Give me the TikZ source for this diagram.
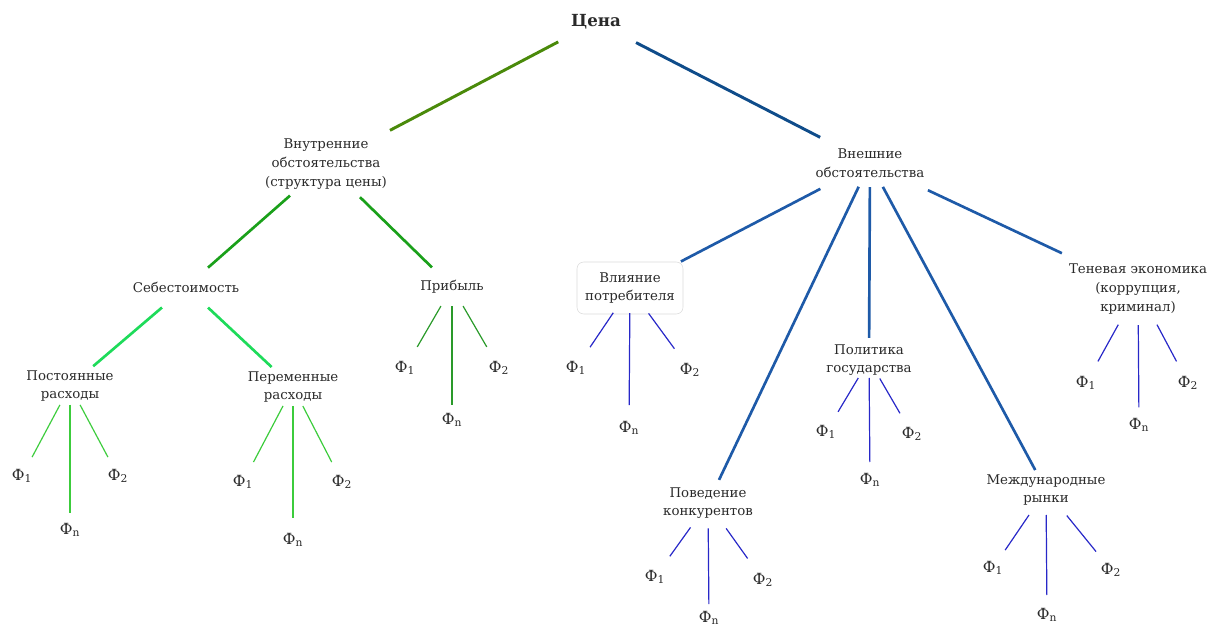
\documentclass[tikz,border=0pt]{standalone}
\usepackage{fontspec}
\setmainfont{DejaVu Serif}
\usetikzlibrary{calc}
\definecolor{txtgray}{HTML}{2A2A2A}
\definecolor{olivegr}{HTML}{4A8A0A}
\definecolor{navybl}{HTML}{0F4C8A}
\definecolor{midgr}{HTML}{1AA01A}
\definecolor{brightgr}{HTML}{1EDB5A}
\definecolor{leafgr}{HTML}{3CCC3C}
\definecolor{darkleafgr}{HTML}{2A9A2A}
\definecolor{midbl}{HTML}{1E5AA8}
\definecolor{leafbl}{HTML}{2828C8}

\tikzset{
	lvlone/.style = {line width=2.2pt},
	lvltwo/.style = {line width=2pt},
	leaf/.style = {line width=0.9pt},
	fnode/.style = {font=\fontsize{11.5}{13}\selectfont}
}

\begin{document}
\begin{tikzpicture}[x=0.75pt, y=-0.75pt,
	every node/.style={font=\fontsize{10}{14}\selectfont, text=txtgray, align=center, inner sep=1pt}]
	\useasboundingbox (0,0) rectangle (1213,630);

	% top
	\node[font=\fontsize{12.5}{14}\bfseries] (cena) at (596,22) {Цена};
	\node (vnut) at (326,164) {Внутренние\\обстоятельства\\(структура цены)};
	\node (vnesh) at (870,163) {Внешние\\обстоятельства};

	% inner side
	\node (seb) at (186,287) {Себестоимость};
	\node (prib) at (452,287) {Прибыль};
	\node (post) at (70,386) {Постоянные\\расходы};
	\node (per) at (293,387) {Переменные\\расходы};

	% outer side
	\node[draw=black!15, rounded corners=5pt, minimum width=106*0.75pt, minimum height=52*0.75pt] (vliy) at (630,288) {Влияние\\потребителя};
	\node (ten) at (1138,289) {Теневая экономика\\(коррупция,\\криминал)};
	\node (pol) at (869,360) {Политика\\государства};
	\node (pov) at (708,503) {Поведение\\конкурентов};
	\node (mezh) at (1046,490) {Международные\\рынки};

	% factors
	\foreach \p/\xa/\ya/\xn/\yn/\xb/\yb in {
		post/22/476/70/530/118/476,
		per/243/482/293/540/342/482,
		prib/405/368/452/420/499/368,
		vliy/576/368/629/428/690/370,
		pol/826/432/870/480/912/434,
		pov/655/577/709/618/763/580,
		mezh/993/568/1047/615/1111/570,
		ten/1086/383/1139/425/1188/383}{
		\node[fnode] (\p F1) at (\xa,\ya) {Ф\textsubscript{1}};
		\node[fnode] (\p Fn) at (\xn,\yn) {Ф\textsubscript{n}};
		\node[fnode] (\p F2) at (\xb,\yb) {Ф\textsubscript{2}};
	}

	% main branches
	\foreach \a/\b/\s/\e/\c in {
		cena/vnut/0.14/0.763/olivegr,
		cena/vnesh/0.146/0.818/navybl}{
		\draw[lvlone, \c] ($(\a)!\s!(\b)$) -- ($(\a)!\e!(\b)$);
	}
	\foreach \a/\b/\s/\e/\c in {
		vnut/seb/0.257/0.843/midgr,
		vnut/prib/0.27/0.841/midgr,
		seb/post/0.207/0.8/brightgr,
		seb/per/0.206/0.8/brightgr,
		vnesh/vliy/0.207/0.788/midbl,
		vnesh/pov/0.07/0.932/midbl,
		vnesh/pol/0.122/0.888/midbl,
		vnesh/mezh/0.073/0.939/midbl,
		vnesh/ten/0.216/0.716/midbl}{
		\draw[lvltwo, \c] ($(\a)!\s!(\b)$) -- ($(\a)!\e!(\b)$);
	}

	% factor lines
	\foreach \p/\sa/\ea/\sn/\en/\c in {
		post/0.21/0.79/0.13/0.88/leafgr,
		per/0.2/0.79/0.124/0.856/leafgr,
		prib/0.235/0.74/0.143/0.887/darkleafgr,
		vliy/0.31/0.74/0.18/0.836/leafbl,
		pol/0.25/0.72/0.15/0.85/leafbl,
		pov/0.33/0.72/0.22/0.88/leafbl,
		mezh/0.32/0.77/0.2/0.84/leafbl,
		ten/0.38/0.77/0.265/0.87/leafbl}{
		\draw[leaf, \c] ($(\p)!\sa!(\p F1)$) -- ($(\p)!\ea!(\p F1)$);
		\draw[leaf, \c] ($(\p)!\sn!(\p Fn)$) -- ($(\p)!\en!(\p Fn)$);
		\draw[leaf, \c] ($(\p)!\sa!(\p F2)$) -- ($(\p)!\ea!(\p F2)$);
	}
\end{tikzpicture}
\end{document}
